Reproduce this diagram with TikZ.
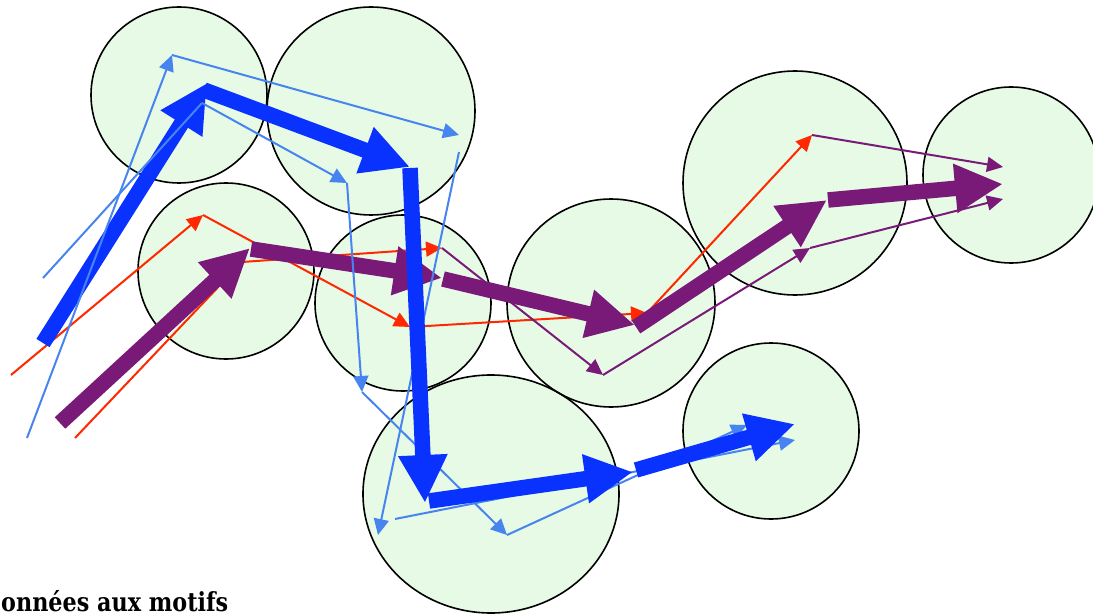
\documentclass[tikz,border=0pt]{standalone}
\usepackage{fontspec}
\newfontfamily\slabfont{DejaVu Serif}
\usetikzlibrary{arrows.meta}
\definecolor{tblue}{RGB}{10,50,255}
\definecolor{tpurple}{RGB}{122,26,120}
\definecolor{lblue}{RGB}{72,132,240}
\definecolor{tred}{RGB}{255,40,0}
\definecolor{bubble}{RGB}{230,250,230}
\tikzset{
  bubblefill/.style={fill=bubble,draw=none},
  bubbleline/.style={draw=black,line width=1.6pt},
  thickarrow/.style={line width=15.5pt,line cap=butt,-{Triangle[length=48pt,width=46pt]}},
  thinarrow/.style={line width=2pt,-{Triangle[length=16pt,width=15pt]}},
  thinline/.style={line width=2pt},
}
\begin{document}
\begin{tikzpicture}[x=1pt,y=-1pt]
\useasboundingbox (0,0) rectangle (1093,615);
% circles
\foreach \n/\cx/\cy/\rx/\ry in {c1/179/95/88/88, c2/371/111/104/104, c3/226/271/88/88, c4/403/303/88/88, c5/611/303/104/104, c6/491/494/128/119, c7/771/431/88/88, c8/795/183/112/112, c9/1011/175/88/88}{
  \path[bubblefill] (\cx,\cy) ellipse [x radius=\rx, y radius=\ry];
}
\foreach \n/\cx/\cy/\rx/\ry in {c1/179/95/88/88, c2/371/111/104/104, c3/226/271/88/88, c4/403/303/88/88, c5/611/303/104/104, c6/491/494/128/119, c7/771/431/88/88, c8/795/183/112/112, c9/1011/175/88/88}{
  \path[bubbleline] (\cx,\cy) ellipse [x radius=\rx, y radius=\ry];
}
% thin blue coordinates
\coordinate (a0) at (27,438);
\coordinate (a1) at (172,55);
\coordinate (a2) at (459,135);
\coordinate (a3) at (459,152);
\coordinate (a4) at (378,535);
\coordinate (a5) at (395,519);
\coordinate (a6) at (795,440);
\coordinate (b0) at (43,278);
\coordinate (b1) at (202,103);
\coordinate (b2) at (347,183);
\coordinate (b3) at (362,392);
\coordinate (b4) at (507,535);
\coordinate (b5) at (747,425);
% red / thin purple
\coordinate (r0) at (11,375);
\coordinate (r1) at (203,215);
\coordinate (r2) at (410,327);
\coordinate (r3) at (647,313);
\coordinate (r4) at (812,135);
\coordinate (r5) at (1003,167);
\coordinate (s0) at (75,438);
\coordinate (s1) at (242,262);
\coordinate (s2) at (442,248);
\coordinate (s3) at (603,375);
\coordinate (s4) at (810,248);
\coordinate (s5) at (1003,199);
% thick coordinates
\coordinate (B0) at (43,343);
\coordinate (B1) at (207,83);
\coordinate (B1s) at (204,90);
\coordinate (B2) at (410,167);
\coordinate (B2s) at (410,168);
\coordinate (B3) at (425,503);
\coordinate (B3s) at (429,501);
\coordinate (B4) at (633,472);
\coordinate (B4s) at (636,470);
\coordinate (B5) at (795,424);
\coordinate (P0) at (60,423);
\coordinate (P1) at (250,248);
\coordinate (P1s) at (251,249);
\coordinate (P2) at (442,278);
\coordinate (P2s) at (443,279);
\coordinate (P3) at (635,325);
\coordinate (P3s) at (636,327);
\coordinate (P4) at (827,200);
\coordinate (P4s) at (828,200);
\coordinate (P5) at (1003,184);
% red and thin purple
\draw[thinarrow,tred] (r0) -- (r1);
\draw[thinarrow,tred] (r1) -- (r2);
\draw[thinarrow,tred] (r2) -- (r3);
\draw[thinarrow,tred] (r3) -- (r4);
\draw[thinarrow,tpurple] (r4) -- (r5);
\draw[thinline,tred] (s0) -- (s1);
\draw[thinarrow,tred] (s1) -- (s2);
\draw[thinarrow,tpurple] (s2) -- (s3);
\draw[thinarrow,tpurple] (s3) -- (s4);
\draw[thinarrow,tpurple] (s4) -- (s5);
% thick purple
\draw[thickarrow,tpurple] (P0) -- (P1);
\draw[thickarrow,tpurple] (P1s) -- (P2);
\draw[thickarrow,tpurple] (P2s) -- (P3);
\draw[thickarrow,tpurple] (P3s) -- (P4);
\draw[thickarrow,tpurple] (P4s) -- (P5);
% thin blue under the thick blue
\draw[thinarrow,lblue] (a1) -- (a2);
\draw[thinarrow,lblue] (a3) -- (a4);
\draw[thinarrow,lblue] (b2) -- (b3);
\draw[thinarrow,lblue] (b3) -- (b4);
\draw[thinarrow,lblue] (a5) -- (a6);
\draw[thinarrow,lblue] (b4) -- (b5);
% thick blue
\draw[thickarrow,tblue] (B0) -- (B1);
\draw[thickarrow,tblue] (B1s) -- (B2);
\draw[thickarrow,tblue] (B2s) -- (B3);
\draw[thickarrow,tblue] (B3s) -- (B4);
\draw[thickarrow,tblue] (B4s) -- (B5);
% thin blue drawn over
\draw[thinarrow,lblue] (a0) -- (a1);
\draw[thinline,lblue] (b0) -- (b1);
\draw[thinarrow,lblue] (b1) -- (b2);
% caption
\node[anchor=base west,inner sep=0pt] (caption) at (1,611) {\resizebox{227pt}{21pt}{\slabfont\bfseries onnées aux motifs}};
\end{tikzpicture}
\end{document}
